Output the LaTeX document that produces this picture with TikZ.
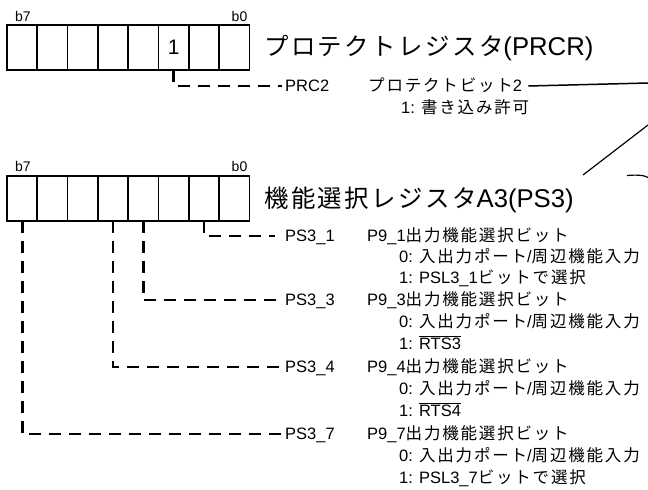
\documentclass[tikz,border=0pt]{standalone}
\usepackage{fontspec}
\setmainfont{Liberation Sans}
\newfontfamily\jps[Scale=1.0,LetterSpace=11]{Noto Sans CJK JP}
\newfontfamily\jpt[Scale=0.95,LetterSpace=10]{Noto Sans CJK JP}
\newcommand\J[1]{{\jps #1}}
\newcommand\T[1]{{\jpt #1}}
\newcommand\ovl[1]{\setbox0\hbox{#1}\rlap{\rule[\dimexpr\ht0+1.6pt\relax]{\wd0}{0.9pt}}\box0}
\begin{document}
\begin{tikzpicture}[x=1pt,y=-1pt,
  cell/.style={draw,line width=1.7pt,minimum width=30.3pt,minimum height=45pt,inner sep=0pt,outer sep=0pt},
  conn/.style={line width=2.8pt,dash pattern=on 12pt off 8pt},
  lbl/.style={anchor=west,inner sep=0pt,text height=11.8pt,text depth=0pt,font=\fontsize{16.5}{20}\selectfont},
  bitlbl/.style={inner sep=0pt,font=\fontsize{14}{16}\selectfont},
  regtitle/.style={anchor=west,inner sep=0pt,text height=18.4pt,text depth=0pt,font=\fontsize{25.7}{30}\selectfont},
  thinline/.style={line width=1.2pt}]
\useasboundingbox (0,0) rectangle (648,490);

% registers
\foreach \b in {7,...,0} {
  \node[cell] (p\b) at ({22.15+(7-\b)*30.3},47.5) {};
  \node[cell] (s\b) at ({22.15+(7-\b)*30.3},198.5) {};
}
\node[font=\fontsize{21}{21}\selectfont,inner sep=0pt] (one) at (p2) {1};

\node[bitlbl] (pb7) at (23,16) {b7};
\node[bitlbl] (pb0) at (239.5,16) {b0};
\node[bitlbl] (sb7) at (23,166) {b7};
\node[bitlbl] (sb0) at (239.5,166) {b0};

\node[regtitle] (ptitle) at (264,46) {\T{プロテクトレジスタ}(PRCR)};
\node[regtitle] (stitle) at (264,198.5) {\T{機能選択レジスタ}A3(PS3)};

% PRCR
\node[lbl] (prc2) at (285,86) {PRC2};
\node[lbl] (prcdesc) at (368,86) {\J{プロテクトビット}2};
\node[lbl] (prcv1) at (401,108) {1: \J{書き込み許可}};
\draw[conn] (p2.south) |- ([xshift=-3pt]prc2.west);

% PS3_1
\node[lbl] (ps31) at (285,236) {PS3\_1};
\node[lbl] (ps31d) at (367,236) {P9\_1\J{出力機能選択ビット}};
\node[lbl] (ps31a) at (399,257) {0: \J{入出力ポート}/\J{周辺機能入力}};
\node[lbl] (ps31b) at (399,278) {1: PSL3\_1\J{ビットで選択}};
\draw[conn] (s1.south) |- ([xshift=-10pt]ps31.west);

% PS3_3
\node[lbl] (ps33) at (285,300) {PS3\_3};
\node[lbl] (ps33d) at (367,300) {P9\_3\J{出力機能選択ビット}};
\node[lbl] (ps33a) at (399,322) {0: \J{入出力ポート}/\J{周辺機能入力}};
\node[lbl] (ps33b) at (399,344) {1: \ovl{RTS3}};
\draw[conn] (s3.south) |- ([xshift=-3pt]ps33.west);

% PS3_4
\node[lbl] (ps34) at (285,367) {PS3\_4};
\node[lbl] (ps34d) at (367,367) {P9\_4\J{出力機能選択ビット}};
\node[lbl] (ps34a) at (399,389) {0: \J{入出力ポート}/\J{周辺機能入力}};
\node[lbl] (ps34b) at (399,411) {1: \ovl{RTS4}};
\draw[conn] (s4.south) |- ([xshift=-3pt]ps34.west);

% PS3_7
\node[lbl] (ps37) at (285,434) {PS3\_7};
\node[lbl] (ps37d) at (367,434) {P9\_7\J{出力機能選択ビット}};
\node[lbl] (ps37a) at (399,456) {0: \J{入出力ポート}/\J{周辺機能入力}};
\node[lbl] (ps37b) at (399,478) {1: PSL3\_7\J{ビットで選択}};
\draw[conn] (s7.south) |- ([xshift=-3pt]ps37.west);

% fragments at right edge
\coordinate (edgeA) at (648,83);
\coordinate (diagA) at (583,175);
\coordinate (diagB) at (648,125);
\coordinate (arcA) at (627,175.5);
\coordinate (arcB) at (648,177.5);
\draw[line width=1.5pt] ([xshift=6pt]prcdesc.east) -- (edgeA);
\draw[thinline] (diagA) -- (diagB);
\draw[thinline] (arcA) .. controls (638,174.5) and (645,175.5) .. (arcB);
\end{tikzpicture}
\end{document}
